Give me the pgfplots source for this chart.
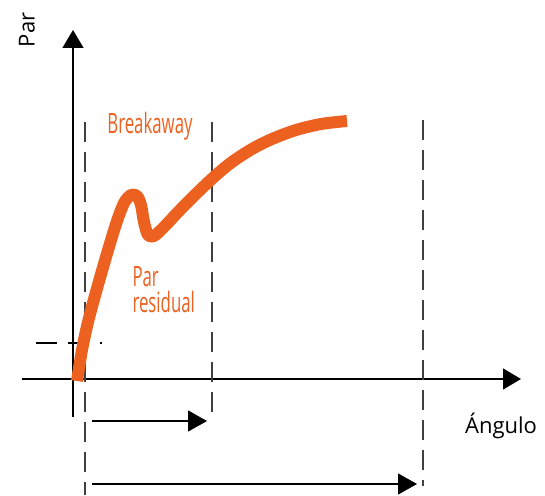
\documentclass[border=0pt]{standalone}
\usepackage{fontspec}
\setmainfont{Open Sans}
\newfontfamily\condfont[FakeStretch=0.6]{Open Sans}
\usepackage{pgfplots}
\pgfplotsset{compat=1.18}
\usetikzlibrary{arrows.meta}
\definecolor{torque}{RGB}{236, 97, 32}
\definecolor{guide}{RGB}{64, 64, 64}

\begin{document}
\begin{tikzpicture}
  \begin{axis}[
    scale only axis, width=545bp, height=495bp,
    xmin=0, xmax=545, ymin=0, ymax=495, y dir=reverse,
    hide axis, clip=false,
  ]
    \path (axis cs:0,0) rectangle (axis cs:545,495);
    % axes
    \addplot[black, line width=1.3bp, -{Triangle[length=18bp, width=21bp]}]
      coordinates {(73,417) (73,30)};
    \addplot[black, line width=1.3bp, -{Triangle[length=18bp, width=21bp]}]
      coordinates {(22,379) (521,379)};
    % dashed guides
    \addplot[guide, line width=1.5bp, dash pattern=on 20bp off 10bp]
      coordinates {(85,122) (85,495)};
    \addplot[guide, line width=1.5bp, dash pattern=on 20bp off 10bp]
      coordinates {(212,122) (212,418)};
    \addplot[guide, line width=1.5bp, dash pattern=on 20bp off 10bp]
      coordinates {(423,120) (423,486)};
    \addplot[black, line width=1.3bp, dash pattern=on 21bp off 11bp]
      coordinates {(36,343) (102,343)};
    % range arrows
    \addplot[black, line width=1.3bp, -{Triangle[length=19bp, width=21bp]}]
      coordinates {(92,421) (207,421)};
    \addplot[black, line width=1.3bp, -{Triangle[length=19bp, width=21bp]}]
      coordinates {(92,484) (417,484)};
    % torque curve
    \addplot[torque, line width=12bp, line cap=butt, line join=round, smooth, tension=0.5]
      coordinates {
        (77,381) (82,350) (88,322) (96,292) (106,257) (116,224) (124,203)
        (131,195) (137,196) (141,205) (144,222) (148,235) (154,236) (164,227)
        (180,210) (198,192) (215,176) (232,162) (252,149) (272,139) (296,130)
        (321,124) (347,121)
      };
    % labels
    \node[rotate=90, font=\fontsize{22bp}{26bp}\selectfont] at (axis cs:27,30) {Par};
    \node[font=\fontsize{22bp}{26bp}\selectfont] at (axis cs:501,426) {Ángulo};
    \node[torque, font=\condfont\fontsize{28bp}{26bp}\selectfont] at (axis cs:150,126) {Breakaway};
    \node[torque, font=\condfont\fontsize{28bp}{26bp}\selectfont, align=left, anchor=west]
      at (axis cs:129,290) {Par\\residual};
  \end{axis}
\end{tikzpicture}
\end{document}
